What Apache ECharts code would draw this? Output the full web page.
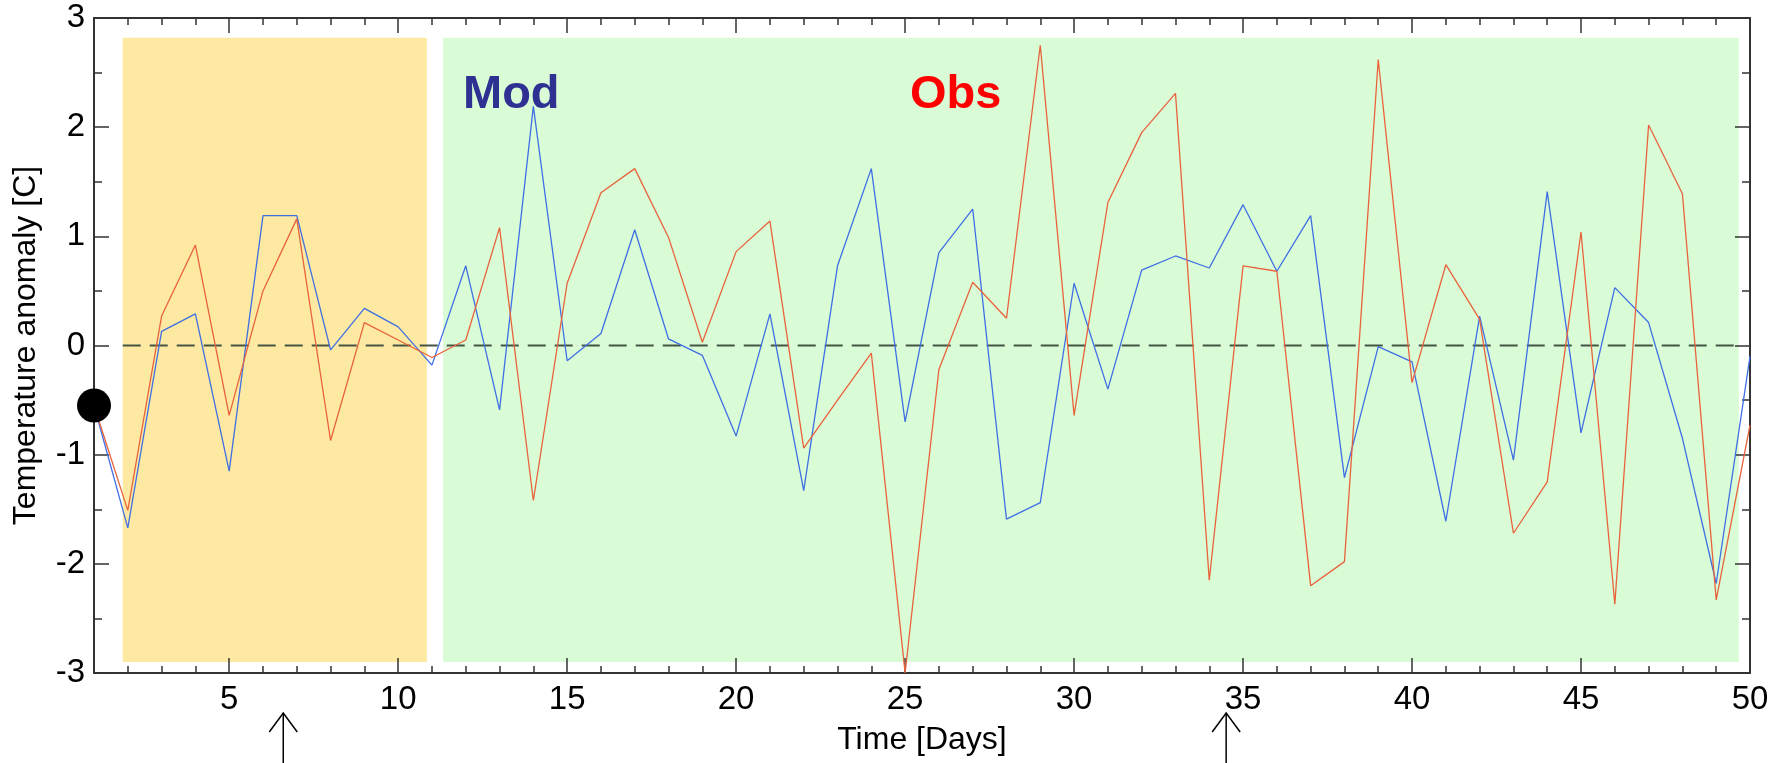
<!DOCTYPE html>
<html>
<head>
<meta charset="utf-8">
<script src="https://cdn.jsdelivr.net/npm/echarts@6/dist/echarts.min.js"></script>
<style>
  html, body { margin: 0; padding: 0; background: #fff; }
  #main { width: 1786px; height: 763px; }
</style>
</head>
<body>
<div id="main"></div>
<script>
var dom = document.getElementById("main");
var chart = echarts.init(dom);

// values
var days = [1, 2, 3, 4, 5, 6, 7, 8, 9, 10, 11, 12, 13, 14, 15, 16, 17, 18, 19, 20,
  21, 22, 23, 24, 25, 26, 27, 28, 29, 30, 31, 32, 33, 34, 35, 36, 37, 38, 39, 40,
  41, 42, 43, 44, 45, 46, 47, 48, 49, 50];
var modValues = [-0.55, -1.67, 0.13, 0.29, -1.15, 1.19, 1.19, -0.04, 0.34, 0.17,
  -0.18, 0.73, -0.59, 2.19, -0.14, 0.11, 1.06, 0.06, -0.09, -0.83,
  0.29, -1.33, 0.73, 1.62, -0.70, 0.85, 1.25, -1.59, -1.44, 0.57,
  -0.40, 0.69, 0.82, 0.71, 1.29, 0.68, 1.19, -1.21, -0.01, -0.15,
  -1.61, 0.27, -1.05, 1.41, -0.80, 0.53, 0.21, -0.85, -2.18, -0.10];
var obsValues = [-0.55, -1.51, 0.27, 0.92, -0.64, 0.50, 1.16, -0.87, 0.21, 0.05,
  -0.11, 0.05, 1.08, -1.42, 0.57, 1.40, 1.62, 0.99, 0.03, 0.86,
  1.14, -0.94, -0.50, -0.07, -3.0, -0.22, 0.58, 0.25, 2.75, -0.64,
  1.31, 1.95, 2.31, -2.15, 0.73, 0.68, -2.20, -1.98, 2.62, -0.34,
  0.74, 0.24, -1.72, -1.25, 1.04, -2.37, 2.02, 1.39, -2.33, -0.73];
var startPoint = [1, -0.55];

// shaded periods (days) and their vertical extent
var spinUpSpan = [1.85, 10.85];
var forecastSpan = [11.33, 49.67];
var bandRange = [-2.9, 2.82];

var majorDays = [5, 10, 15, 20, 25, 30, 35, 40, 45, 50];
var arrowDays = [6.6, 34.5];

var font = "'Liberation Sans', Arial, sans-serif";

function pairs(ys) {
  return days.map(function (d, i) {
    return [d, ys[i]];
  });
}

function xAxisDef(pos, major, labels) {
  return {
    type: "value",
    position: pos,
    min: 1,
    max: 50,
    interval: 1,
    z: 2,
    axisLine: {
      show: !major,
      onZero: false,
      lineStyle: { color: "#333", width: 2 },
    },
    axisTick: {
      show: true,
      inside: true,
      length: major ? 15 : 7,
      customValues: major ? majorDays : undefined,
      lineStyle: { color: "#333", width: 1.5 },
    },
    axisLabel: {
      show: labels,
      customValues: majorDays,
      margin: 10,
      color: "#000",
      fontSize: 33,
      fontFamily: font,
    },
    splitLine: { show: false },
  };
}

function yAxisDef(pos, labels) {
  return {
    type: "value",
    position: pos,
    min: -3,
    max: 3,
    interval: 1,
    z: 2,
    name: labels ? "Temperature anomaly [C]" : "",
    nameLocation: "middle",
    nameGap: 52,
    nameTextStyle: { color: "#000", fontSize: 32, fontFamily: font },
    axisLine: { show: true, onZero: false, lineStyle: { color: "#333", width: 2 } },
    axisTick: { show: true, inside: true, length: 15, lineStyle: { color: "#333", width: 1.5 } },
    minorTick: { show: true, splitNumber: 2, length: 8, lineStyle: { color: "#333", width: 1.5 } },
    axisLabel: { show: labels, margin: 9, color: "#000", fontSize: 33, fontFamily: font },
    splitLine: { show: false },
  };
}

var xBottom = xAxisDef("bottom", false, true);
xBottom.name = "Time [Days]";
xBottom.nameLocation = "middle";
xBottom.nameGap = 51;
xBottom.nameTextStyle = { color: "#000", fontSize: 32, fontFamily: font };

chart.setOption({
  animation: false,
  backgroundColor: "#fff",
  grid: { left: 94, right: 36, top: 18, bottom: 90, outerBoundsMode: "none" },
  xAxis: [
    xBottom,
    xAxisDef("bottom", true, false),
    xAxisDef("top", false, false),
    xAxisDef("top", true, false),
  ],
  yAxis: [yAxisDef("left", true), yAxisDef("right", false)],
  series: [
    {
      name: "zero",
      type: "line",
      z: 3,
      symbol: "none",
      data: [[spinUpSpan[0], 0], [forecastSpan[1], 0]],
      lineStyle: { color: "#445544", width: 2, type: [18, 9] },
      markArea: {
        silent: true,
        z: 1,
        data: [
          [
            { xAxis: spinUpSpan[0], yAxis: bandRange[0], itemStyle: { color: "#fde9a1" } },
            { xAxis: spinUpSpan[1], yAxis: bandRange[1] },
          ],
          [
            { xAxis: forecastSpan[0], yAxis: bandRange[0], itemStyle: { color: "#d9fcd7" } },
            { xAxis: forecastSpan[1], yAxis: bandRange[1] },
          ],
        ],
      },
    },
    {
      name: "Mod",
      type: "line",
      z: 4,
      symbol: "none",
      data: pairs(modValues),
      lineStyle: { color: "#3f6fe3", width: 1.3 },
    },
    {
      name: "Obs",
      type: "line",
      z: 4,
      symbol: "none",
      data: pairs(obsValues),
      lineStyle: { color: "#e8623c", width: 1.3 },
    },
    {
      name: "start",
      type: "scatter",
      z: 5,
      clip: false,
      symbolSize: 34,
      data: [startPoint],
      itemStyle: { color: "#000", opacity: 1 },
    },
  ],
});

// labels and arrows under the time axis
var graphics = [
  {
    type: "text",
    z: 20,
    left: 463,
    top: 72,
    style: { text: "Mod", fill: "#2e3192", font: "bold 47px " + font },
  },
  {
    type: "text",
    z: 20,
    left: 910,
    top: 72,
    style: { text: "Obs", fill: "#ff0000", font: "bold 47px " + font },
  },
];
arrowDays.forEach(function (d) {
  var x = chart.convertToPixel({ xAxisIndex: 0 }, d);
  graphics.push({
    type: "polyline",
    z: 20,
    shape: { points: [[x - 14, 732], [x, 713], [x + 14, 732]] },
    style: { stroke: "#000", lineWidth: 1.5, fill: null },
  });
  graphics.push({
    type: "line",
    z: 20,
    shape: { x1: x, y1: 713, x2: x, y2: 763 },
    style: { stroke: "#000", lineWidth: 1.5 },
  });
});
chart.setOption({ graphic: graphics });
</script>
</body>
</html>
